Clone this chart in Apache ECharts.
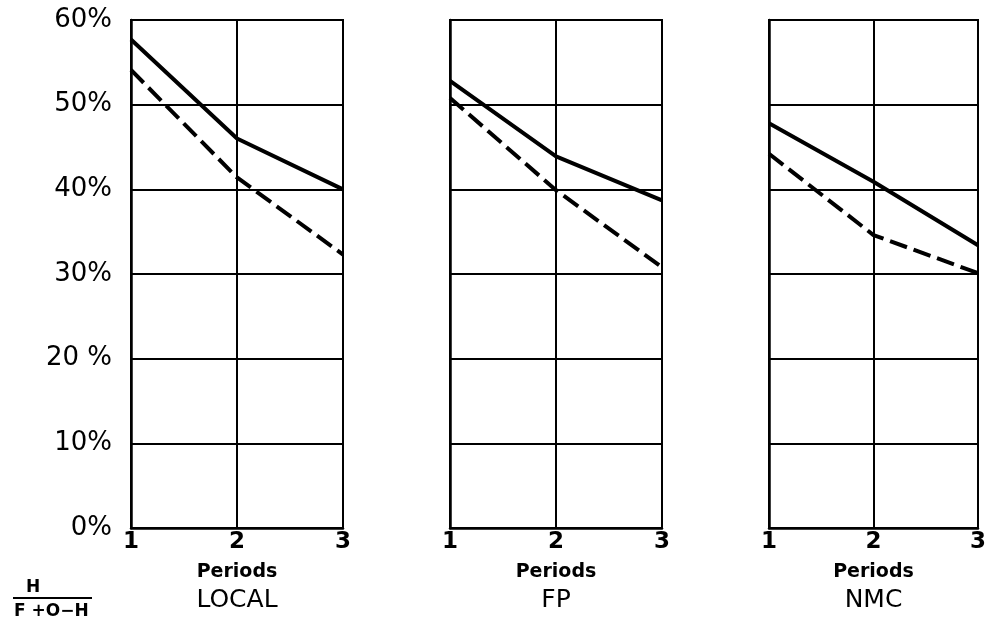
<!DOCTYPE html>
<html><head><meta charset="utf-8">
<script src="https://cdn.jsdelivr.net/npm/echarts@6/dist/echarts.min.js"></script>
<style>html,body{margin:0;padding:0;background:#fff}#c{width:989px;height:625px}</style>
</head><body><div id="c"></div>
<script>
var periods = [1, 2, 3];
var panelNames = ['LOCAL', 'FP', 'NMC'];
var yTickLabels = {0:'0%',10:'10%',20:'20 %',30:'30%',40:'40%',50:'50%',60:'60%'};
var localSolid = [57.7, 46.0, 40.0];
var localDashed = [54.1, 41.4, 32.3];
var fpSolid = [52.8, 43.9, 38.7];
var fpDashed = [50.8, 39.9, 30.8];
var nmcSolid = [47.8, 40.9, 33.4];
var nmcDashed = [44.2, 34.6, 30.1];

var solids = [localSolid, fpSolid, nmcSolid];
var dashes = [localDashed, fpDashed, nmcDashed];
var lefts = [131, 450, 769];
var widths = [212, 212, 211];
var font = 'DejaVu Sans';

var grids = [], xAxes = [], yAxes = [], series = [];
for (var i = 0; i < 3; i++) {
  grids.push({left: lefts[i], width: widths[i], top: 20, height: 508, show: true, borderColor: '#000', borderWidth: 2, backgroundColor: 'transparent'});
  xAxes.push({
    type: 'value', gridIndex: i, min: 1, max: 3, interval: 1,
    axisLine: {show: true, lineStyle: {color: '#000', width: 2.5}},
    axisTick: {show: false},
    splitLine: {show: true, lineStyle: {color: '#000', width: 2}},
    axisLabel: {color: '#000', fontFamily: font, fontWeight: 'bold', fontSize: 23, margin: 3},
    name: '{a|Periods}\n{b|' + panelNames[i] + '}',
    nameLocation: 'middle', nameGap: 29,
    nameTextStyle: {rich: {
      a: {fontFamily: font, fontWeight: 'bold', fontSize: 19, color: '#000', lineHeight: 30},
      b: {fontFamily: font, fontSize: 25, color: '#000', lineHeight: 26}
    }}
  });
  yAxes.push({
    type: 'value', gridIndex: i, min: 0, max: 60, interval: 10,
    axisLine: {show: true, lineStyle: {color: '#000', width: 2.5}},
    axisTick: {show: false},
    splitLine: {show: true, lineStyle: {color: '#000', width: 1.8}},
    axisLabel: {show: i === 0, color: '#000', fontFamily: font, fontSize: 26, margin: 19,
      formatter: function (v) { return yTickLabels[v]; }}
  });
  series.push({
    type: 'line', xAxisIndex: i, yAxisIndex: i, symbol: 'none',
    data: periods.map(function (p, k) { return [p, solids[i][k]]; }),
    lineStyle: {color: '#000', width: 4}
  });
  series.push({
    type: 'line', xAxisIndex: i, yAxisIndex: i, symbol: 'none',
    data: periods.map(function (p, k) { return [p, dashes[i][k]]; }),
    lineStyle: {color: '#000', width: 4, type: [18, 7]}
  });
}

var chart = echarts.init(document.getElementById('c'));
chart.setOption({
  animation: false,
  backgroundColor: '#fff',
  grid: grids, xAxis: xAxes, yAxis: yAxes, series: series,
  graphic: [
    {type: 'text', left: 26, top: 579, style: {text: 'H', font: 'bold 17px "DejaVu Sans"', fill: '#000'}},
    {type: 'line', shape: {x1: 13, y1: 598, x2: 92, y2: 598}, style: {stroke: '#000', lineWidth: 1.8}},
    {type: 'text', left: 14, top: 603, style: {text: 'F +O−H', font: 'bold 17px "DejaVu Sans"', fill: '#000'}}
  ]
});
</script></body></html>
